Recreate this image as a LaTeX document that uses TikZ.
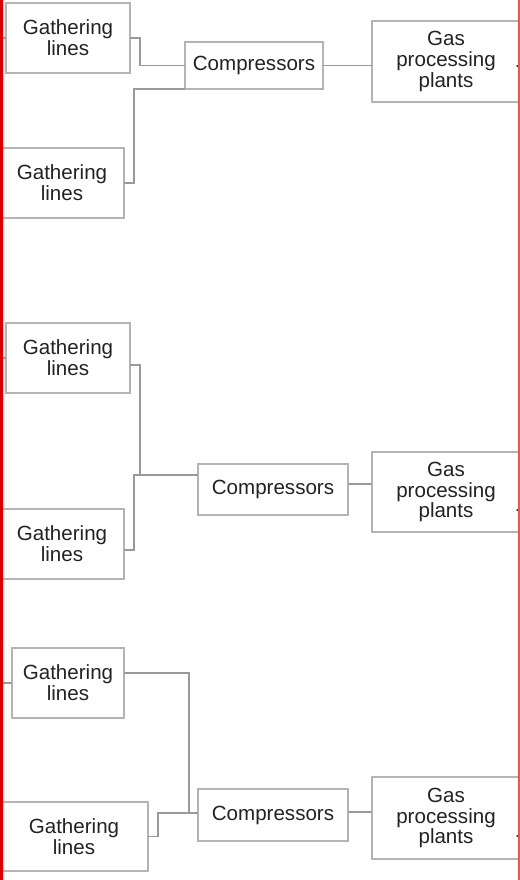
\documentclass[tikz,border=0pt]{standalone}
\usepackage{fontspec}
\setmainfont{Liberation Sans}
\usepackage{xcolor}
\usepackage{tikz}
\usetikzlibrary{
  positioning,
  calc
}
\definecolor{boxgray}{HTML}{B4B4B4}
\definecolor{linegray}{HTML}{9A9A9A}
\definecolor{txtgray}{HTML}{222222}
\tikzset{
  unitbox/.style={rectangle,draw=boxgray,line width=0.6pt,align=center,inner sep=0pt,outer sep=0pt,text=txtgray,font=\fontsize{11.7}{11.9}\selectfont},
  gatherbox/.style={unitbox,minimum width=2.48cm,minimum height=1.40cm},
  compbox/.style={unitbox,minimum width=3.0cm,minimum height=1.02cm},
  plantbox/.style={unitbox,minimum width=2.96cm,minimum height=1.62cm},
  pipe/.style={draw=linegray,line width=0.6pt},
  edgeline/.style={draw=red!85!black,line width=0.06cm}
}

\begin{document}
\begin{tikzpicture}[x=0.02cm,y=-0.02cm]
    \useasboundingbox (0,0) rectangle (520,880);
    % Gruppe 1
    \node[gatherbox] (g1a) at (68,38) {Gathering\\lines};
    \node[gatherbox] (g1b) at (62,183) {Gathering\\lines};
    \node[compbox,minimum width=2.76cm,minimum height=0.94cm] (c1) at (254,65.5) {Compressors};
    \node[plantbox] (p1) at (446,61.5) {Gas\\processing\\plants};
    % Gruppe 2
    \node[gatherbox] (g2a) at (68,358) {Gathering\\lines};
    \node[gatherbox] (g2b) at (62,544) {Gathering\\lines};
    \node[compbox] (c2) at (273,489.5) {Compressors};
    \node[plantbox,minimum height=1.60cm] (p2) at (446,492) {Gas\\processing\\plants};
    % Gruppe 3
    \node[gatherbox,minimum width=2.24cm] (g3a) at (68,683) {Gathering\\lines};
    \node[gatherbox,minimum width=2.96cm,minimum height=1.38cm] (g3b) at (74,836.5) {Gathering\\lines};
    \node[compbox,minimum height=1.04cm] (c3) at (273,815) {Compressors};
    \node[plantbox,minimum height=1.64cm] (p3) at (446,818) {Gas\\processing\\plants};

    % Rand
    \coordinate (lt) at (1.5,0);
    \coordinate (lb) at (1.5,880);
    \coordinate (rt) at (518.5,0);
    \coordinate (rb) at (518.5,880);

    % Leitungen
    \draw[pipe] (g1a.east) -- ++(10,0) |- (c1.west);
    \draw[pipe] (g1b.east) -- ++(10,0) |- (c1.south west);
    \draw[pipe] (c1.east) -- (c1.east -| p1.west);
    \draw[pipe] ([yshift=-0.14cm]g2a.east) -- ++(10,0) |- ([yshift=0.29cm]c2.west);
    \draw[pipe] ([yshift=-0.12cm]g2b.east) -- ++(10,0) |- ([yshift=0.29cm]c2.west);
    \draw[pipe] ([yshift=0.11cm]c2.east) -- ([yshift=0.11cm]c2.east -| p2.west);
    \draw[pipe] ([yshift=0.2cm]g3a.east) -- ++(65,0) |- ([yshift=0.04cm]c3.west);
    \draw[pipe] (g3b.east) -- ++(10,0) |- ([yshift=0.04cm]c3.west);
    \draw[pipe] ([yshift=0.06cm]c3.east) -- ([yshift=0.06cm]c3.east -| p3.west);
    \draw[pipe] (g1a.west) -- (g1a.west -| lt);
    \draw[pipe] (g2a.west) -- (g2a.west -| lt);
    \draw[pipe] (g3a.west) -- (g3a.west -| lt);

    % Punkte rechts
    \foreach \p/\dy in {p1/-0.09cm,p2/-0.36cm,p3/-0.36cm}
        \fill[black!75] ([xshift=-0.05cm,yshift=\dy]\p.east) circle (0.025cm);

    \draw[edgeline] (lt) -- (lb);
    \draw[edgeline,draw=red!70,line width=0.04cm] (rt) -- (rb);
\end{tikzpicture}
\end{document}
